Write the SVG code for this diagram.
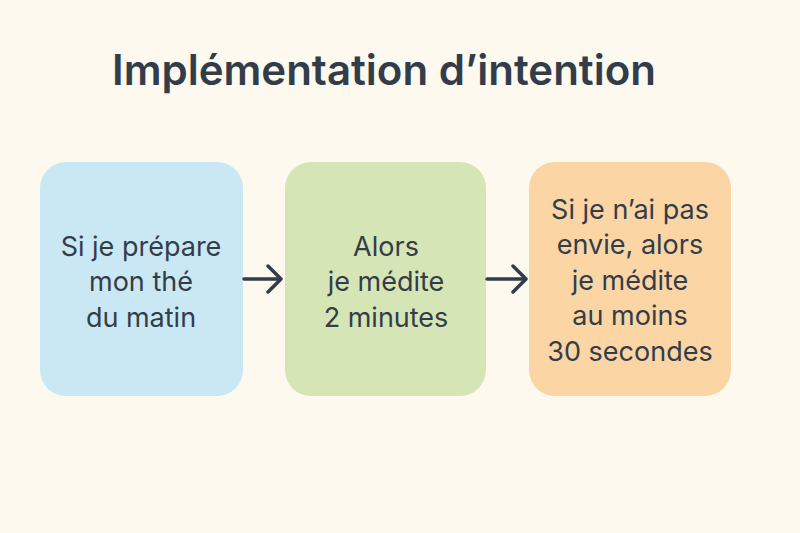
<svg xmlns="http://www.w3.org/2000/svg" width="800" height="533" viewBox="0 0 800 533">
<defs>
<style>
.t{font-family:"Inter","Noto Sans","Liberation Sans",sans-serif;fill:#333d4a;text-anchor:middle;font-size:27px}
.c{stroke:#333d4a;stroke-width:3.5;fill:none;stroke-linecap:round;stroke-linejoin:round}
</style>
</defs>
<rect width="800" height="533" fill="#fdf9ee"/>
<text x="384" y="85" font-family="Inter,'Noto Sans','Liberation Sans',sans-serif" font-size="42" font-weight="600" fill="#333d4a" text-anchor="middle">Implémentation d’intention</text>
<g id="node1">
<rect x="40" y="162" width="203" height="234" rx="26" fill="#c9e8f3"/>
<text class="t" x="141" y="256">Si je prépare</text>
<text class="t" x="141" y="291">mon thé</text>
<text class="t" x="141" y="327">du matin</text>
</g>
<g id="node2">
<rect x="285" y="162" width="201" height="234" rx="26" fill="#d6e5b5"/>
<text class="t" x="386" y="256">Alors</text>
<text class="t" x="386" y="291">je médite</text>
<text class="t" x="386" y="327">2 minutes</text>
</g>
<g id="node3">
<rect x="529" y="162" width="202" height="234" rx="26" fill="#fbd5a4"/>
<text class="t" x="630" y="219">Si je n’ai pas</text>
<text class="t" x="630" y="254">envie, alors</text>
<text class="t" x="630" y="290">je médite</text>
<text class="t" x="630" y="325">au moins</text>
<text class="t" x="630" y="361">30 secondes</text>
</g>
<g id="connectors">
<path class="c" d="M244 279 H280 M268 266 L281 279 L268 292"/>
<path class="c" d="M487 279 H525 M513 266 L526 279 L513 292"/>
</g>
</svg>
